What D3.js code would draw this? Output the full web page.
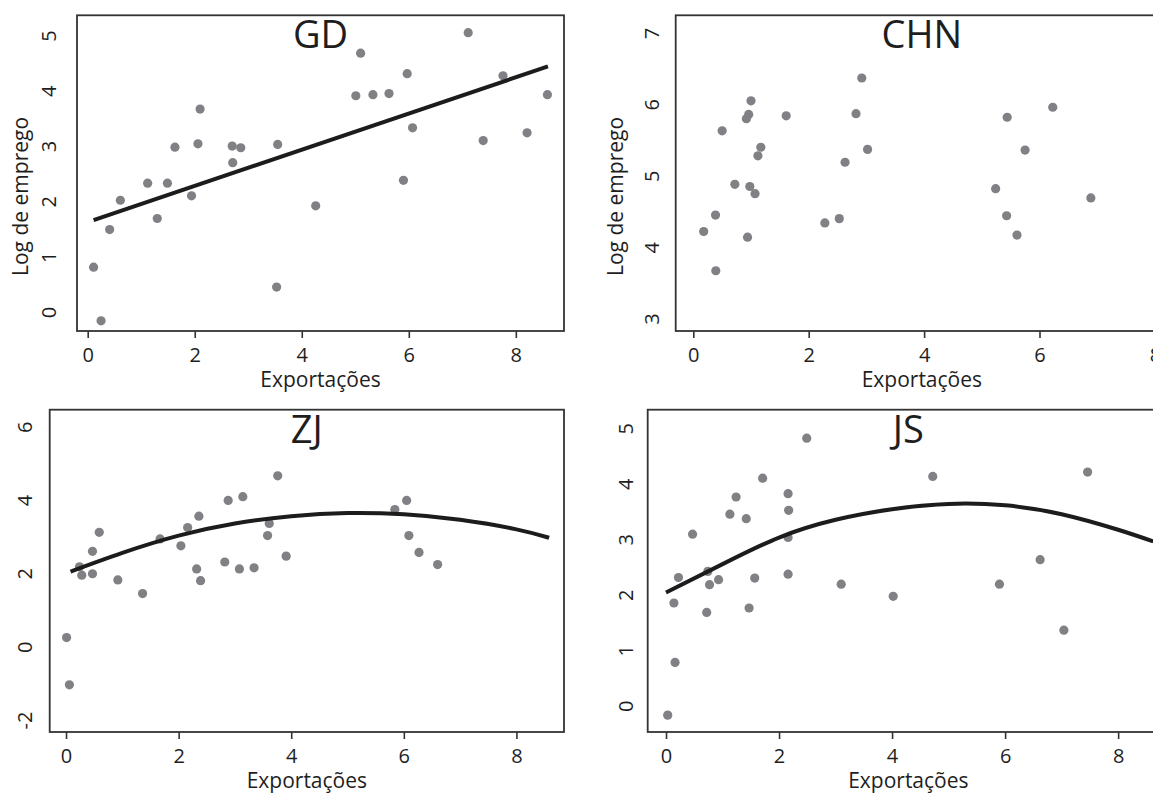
<!DOCTYPE html>
<html>
<head>
<meta charset="utf-8">
<script src="https://cdn.jsdelivr.net/npm/d3@7"></script>
<style>
  body { margin: 0; background: #fff; }
  text { font-family: "Open Sans", sans-serif; fill: #1e1e1e; }
</style>
</head>
<body>
<script>
// Les données

// GD
const gdExport  = [0.11, 0.25, 0.41, 0.61, 1.12, 1.30, 1.49, 1.63, 1.94, 2.06, 2.10, 2.70, 2.71, 2.86, 3.55,
                   3.53, 4.26, 5.01, 5.10, 5.33, 5.63, 5.90, 5.97, 6.07, 7.11, 7.39, 7.76, 8.21, 8.59];
const gdEmprego = [0.81, -0.16, 1.49, 2.02, 2.33, 1.69, 2.33, 2.98, 2.10, 3.04, 3.67, 3.00, 2.70, 2.97, 3.03,
                   0.45, 1.92, 3.91, 4.68, 3.93, 3.95, 2.38, 4.31, 3.33, 5.05, 3.10, 4.27, 3.24, 3.93];
const gdFit = [[0.11, 1.66], [8.6, 4.44]];

// CHN
const chnExport  = [0.18, 0.385, 0.39, 0.50, 0.72, 0.94, 0.92, 0.96, 1.00, 0.98, 1.07, 1.12, 1.17, 1.61,
                    2.28, 2.53, 2.63, 2.82, 2.92, 3.02, 5.24, 5.43, 5.44, 5.61, 5.75, 6.23, 6.89];
const chnEmprego = [4.22, 4.45, 3.67, 5.63, 4.88, 4.14, 5.80, 5.86, 6.05, 4.85, 4.75, 5.28, 5.40, 5.84,
                    4.34, 4.40, 5.19, 5.87, 6.37, 5.37, 4.82, 4.44, 5.82, 4.17, 5.36, 5.96, 4.69];

// ZJ
const zjExport  = [0.01, 0.06, 0.24, 0.28, 0.47, 0.47, 0.59, 0.92, 1.36, 1.67, 2.04, 2.16, 2.32, 2.36, 2.39,
                   2.82, 2.88, 3.08, 3.14, 3.34, 3.58, 3.61, 3.76, 3.91, 5.84, 6.05, 6.09, 6.27, 6.60];
const zjEmprego = [0.25, -1.04, 2.18, 1.95, 2.60, 1.99, 3.12, 1.82, 1.45, 2.94, 2.75, 3.25, 2.12, 3.56, 1.80,
                   2.31, 3.99, 2.12, 4.09, 2.15, 3.03, 3.36, 4.66, 2.47, 3.74, 3.99, 3.03, 2.57, 2.24];
const zjFit = [[0.08, 2.05], [1, 2.56], [2, 3.03], [3, 3.36], [4, 3.56], [5, 3.645],
               [6, 3.61], [7, 3.46], [8, 3.2], [8.58, 2.97]];

// JS
const jsExport  = [0.03, 0.16, 0.14, 0.22, 0.47, 0.72, 0.74, 0.77, 0.93, 1.13, 1.24, 1.42, 1.47, 1.57,
                   1.71, 2.16, 2.17, 2.16, 2.16, 2.49, 3.10, 4.02, 4.72, 5.90, 6.62, 7.04, 7.46];
const jsEmprego = [-0.17, 0.78, 1.85, 2.31, 3.09, 1.68, 2.42, 2.18, 2.27, 3.45, 3.76, 3.37, 1.76, 2.30,
                   4.10, 3.82, 3.52, 3.03, 2.37, 4.82, 2.19, 1.97, 4.13, 2.19, 2.63, 1.36, 4.21];
const jsFit = [[0.0, 2.04], [1, 2.55], [2, 3.03], [3, 3.35], [4, 3.54], [5, 3.635],
               [6, 3.61], [7, 3.45], [8, 3.17], [8.62, 2.96]];

// Graduations
const xTicks   = [0, 2, 4, 6, 8];
const gdYTicks  = [0, 1, 2, 3, 4, 5];
const chnYTicks = [3, 4, 5, 6, 7];
const zjYTicks  = [-2, 0, 2, 4, 6];
const jsYTicks  = [0, 1, 2, 3, 4, 5];

const xTitle = "Exportações";
const yTitle = "Log de emprego";

// Cadre SVG
const svg = d3.select("body").append("svg")
              .attr("width", 1153)
              .attr("height", 794);

// Les 4 panneaux (position du cadre en pixels)
const panels = [
  {name: "GD",  xs: gdExport,  ys: gdEmprego,  fit: gdFit, yTicks: gdYTicks,
   left: 77,    right: 564,  top: 15.3,  bottom: 331, xDom: [-0.2, 8.9],    yDom: [-0.344, 5.365],
   labOff: 28, ylabX: 21},
  {name: "CHN", xs: chnExport, ys: chnEmprego, fit: null,  yTicks: chnYTicks,
   left: 675.7, right: 1168, top: 15.3,  bottom: 331, xDom: [-0.305, 8.227], yDom: [2.826, 7.248],
   labOff: 24, ylabX: 616},
  {name: "ZJ",  xs: zjExport,  ys: zjEmprego,  fit: zjFit, yTicks: zjYTicks,
   left: 49.7,  right: 564,  top: 409.7, bottom: 732, xDom: [-0.29, 8.845],  yDom: [-2.326, 6.463],
   labOff: 25, ylabX: null},
  {name: "JS",  xs: jsExport,  ys: jsEmprego,  fit: jsFit, yTicks: jsYTicks,
   left: 647.7, right: 1169, top: 409.7, bottom: 732, xDom: [-0.324, 8.9],  yDom: [-0.474, 5.333],
   labOff: 22, ylabX: null}
];

// format simple : "-2" avec un tiret normal, pas de décimale
const fmt = d => String(d);

panels.forEach(p => {
  const x = d3.scaleLinear().domain(p.xDom).range([p.left, p.right]);
  const y = d3.scaleLinear().domain(p.yDom).range([p.bottom, p.top]);
  const g = svg.append("g");
  const cx = (p.left + p.right) / 2;

  // points
  g.selectAll("circle")
   .data(d3.zip(p.xs, p.ys))
   .join("circle")
   .attr("cx", d => x(d[0]))
   .attr("cy", d => y(d[1]))
   .attr("r", 4.6)
   .attr("fill", "#818185");

  // courbe ajustée
  if (p.fit) {
    const line = d3.line()
                   .x(d => x(d[0]))
                   .y(d => y(d[1]))
                   .curve(d3.curveNatural);
    g.append("path")
     .attr("d", line(p.fit))
     .attr("fill", "none")
     .attr("stroke", "#1c1c1c")
     .attr("stroke-width", 4);
  }

  // cadre
  g.append("rect")
   .attr("x", p.left).attr("y", p.top)
   .attr("width", p.right - p.left).attr("height", p.bottom - p.top)
   .attr("fill", "none")
   .attr("stroke", "#333")
   .attr("stroke-width", 1.8);

  // axe X
  const gx = g.append("g")
              .attr("transform", "translate(0," + p.bottom + ")")
              .call(d3.axisBottom(x).tickValues(xTicks).tickFormat(fmt).tickSize(7).tickSizeOuter(0));
  gx.select(".domain").remove();
  gx.attr("font-family", null).attr("font-size", null);
  gx.selectAll("line").attr("stroke", "#333").attr("stroke-width", 1.6);
  gx.selectAll("text")
    .attr("y", 17)
    .style("font-size", "20px")
    .attr("fill", null);

  // axe Y (étiquettes verticales, sans graduation)
  const gy = g.append("g")
              .attr("transform", "translate(" + p.left + ",0)")
              .call(d3.axisLeft(y).tickValues(p.yTicks).tickFormat(fmt).tickSize(0));
  gy.select(".domain").remove();
  gy.attr("font-family", null).attr("font-size", null);
  gy.selectAll("text")
    .attr("x", null)
    .attr("text-anchor", "middle")
    .attr("dy", "0.35em")
    .attr("transform", "translate(" + (-p.labOff) + ",0) rotate(-90)")
    .style("font-size", "20px")
    .attr("fill", null);

  // titre du panneau
  g.append("text")
   .attr("x", cx).attr("y", p.top + 33)
   .attr("text-anchor", "middle")
   .style("font-size", "38px")
   .text(p.name);

  // titre axe X
  g.append("text")
   .attr("x", cx).attr("y", p.bottom + 56)
   .attr("text-anchor", "middle")
   .style("font-size", "21px")
   .text(xTitle);

  // titre axe Y
  if (p.ylabX !== null) {
    g.append("text")
     .attr("transform", "translate(" + (p.ylabX + 7) + ",276) rotate(-90)")
     .attr("text-anchor", "start")
     .style("font-size", "21px")
     .text(yTitle);
  }
});
</script>
</body>
</html>
